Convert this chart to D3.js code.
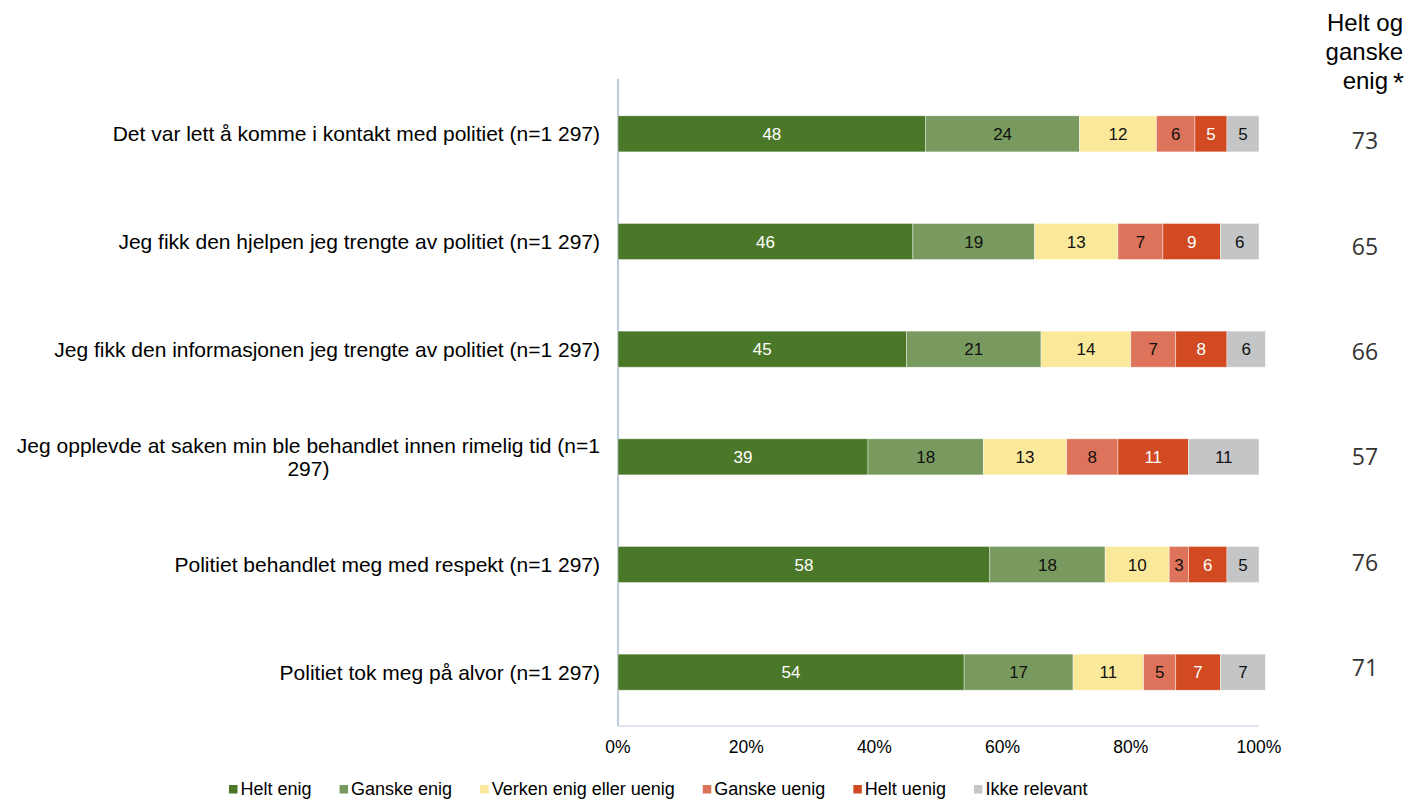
<!DOCTYPE html>
<html><head><meta charset="utf-8">
<script src="https://cdn.jsdelivr.net/npm/d3@7"></script>
<style>body{margin:0;background:#fff}svg{display:block}</style>
</head><body>
<svg id="c" width="1412" height="800"></svg>
<script>
const categories = [
  "Det var lett å komme i kontakt med politiet (n=1 297)",
  "Jeg fikk den hjelpen jeg trengte av politiet (n=1 297)",
  "Jeg fikk den informasjonen jeg trengte av politiet (n=1 297)",
  "Jeg opplevde at saken min ble behandlet innen rimelig tid (n=1|297)",
  "Politiet behandlet meg med respekt (n=1 297)",
  "Politiet tok meg på alvor (n=1 297)"
];
const seriesNames = ["Helt enig","Ganske enig","Verken enig eller uenig","Ganske uenig","Helt uenig","Ikke relevant"];
const heltEnig    = [48,46,45,39,58,54];
const ganskeEnig  = [24,19,21,18,18,17];
const verken      = [12,13,14,13,10,11];
const ganskeUenig = [6,7,7,8,3,5];
const heltUenig   = [5,9,8,11,6,7];
const ikkeRelevant= [5,6,6,11,5,7];
const heltOgGanske = [73,65,66,57,76,71];
const tickValues = [0,20,40,60,80,100];
const rightHeader = ["Helt og","ganske","enig"];

const seriesData = [heltEnig,ganskeEnig,verken,ganskeUenig,heltUenig,ikkeRelevant];
const colors = ["#4b7729","#789a5f","#fbe99b","#dc735a","#d14a22","#c4c5c7"];
const labelColors = ["#fff","#111","#111","#111","#fff","#111"];

const svg = d3.select("#c");
const font = "'Liberation Sans', Arial, sans-serif";
const x = d3.scaleLinear().domain([0,100]).range([618,1259]);
const y = d3.scaleBand().domain(d3.range(categories.length)).range([80,726]).paddingInner(0.665).paddingOuter(0.3325);
const yRight = d3.scaleLinear().domain([0,5]).range([141,668]);

// axes lines
svg.append("line").attr("x1",618).attr("x2",618).attr("y1",79).attr("y2",726).attr("stroke","#bccbdd").attr("stroke-width",2);
svg.append("line").attr("x1",618).attr("x2",1259).attr("y1",726).attr("y2",726).attr("stroke","#d5dce6").attr("stroke-width",1.5);

// bars
categories.forEach((c,i)=>{
  let acc=0;
  seriesData.forEach((s,j)=>{
    const v=s[i];
    const g=svg.append("g");
    g.append("rect").attr("x",x(acc)).attr("y",y(i)).attr("width",x(acc+v)-x(acc)).attr("height",y.bandwidth())
      .attr("fill",colors[j]).attr("stroke","#ffffff").attr("stroke-opacity",0.5).attr("stroke-width",0.8);
    g.append("text").attr("x",(x(acc)+x(acc+v))/2).attr("y",y(i)+y.bandwidth()/2).attr("dy","0.36em")
      .attr("text-anchor","middle").attr("font-family",font).attr("font-size",17).attr("fill",labelColors[j]).text(v);
    acc+=v;
  });
});

// category labels
categories.forEach((c,i)=>{
  const lines=c.split("|");
  const cy=y(i)+y.bandwidth()/2;
  if(lines.length===1){
    svg.append("text").attr("x",600).attr("y",cy).attr("dy","0.36em").attr("text-anchor","end")
      .attr("font-family",font).attr("font-size",21).attr("fill","#000").text(c);
  } else {
    const t1=svg.append("text").attr("x",600).attr("y",cy-11).attr("dy","0.36em").attr("text-anchor","end")
      .attr("font-family",font).attr("font-size",21).attr("fill","#000").text(lines[0]);
    const w=t1.node().getComputedTextLength();
    svg.append("text").attr("x",600-w/2).attr("y",cy+12).attr("dy","0.36em").attr("text-anchor","middle")
      .attr("font-family",font).attr("font-size",21).attr("fill","#000").text(lines[1]);
  }
});

// x ticks
tickValues.forEach(t=>{
  svg.append("text").attr("x",x(t)).attr("y",747).attr("dy","0.36em").attr("text-anchor","middle")
    .attr("font-family",font).attr("font-size",17.5).attr("fill","#000").text(t+"%");
});

// right column
rightHeader.forEach((h,k)=>{
  svg.append("text").attr("x",k===2?1388:1403).attr("y",22+k*29).attr("dy","0.36em").attr("text-anchor","end")
    .attr("font-family",font).attr("font-size",24).attr("fill","#000").text(h);
});
svg.append("text").attr("x",1404).attr("y",82).attr("dy","0.36em").attr("text-anchor","end")
  .attr("font-family",font).attr("font-size",28).attr("fill","#000").text("*");
heltOgGanske.forEach((v,i)=>{
  svg.append("text").attr("x",1365).attr("y",yRight(i)).attr("dy","0.36em").attr("text-anchor","middle")
    .attr("font-family","'Open Sans', sans-serif").attr("font-size",23).attr("fill","#333").text(v);
});

// legend
let lx=229;
seriesNames.forEach((n,j)=>{
  svg.append("rect").attr("x",lx).attr("y",785).attr("width",8.5).attr("height",8.5).attr("fill",colors[j]);
  const t=svg.append("text").attr("x",lx+11.5).attr("y",789).attr("dy","0.36em").attr("font-family",font)
    .attr("font-size",18).attr("fill","#000").text(n);
  lx+=11.5+t.node().getComputedTextLength()+28;
});
</script>
</body></html>
